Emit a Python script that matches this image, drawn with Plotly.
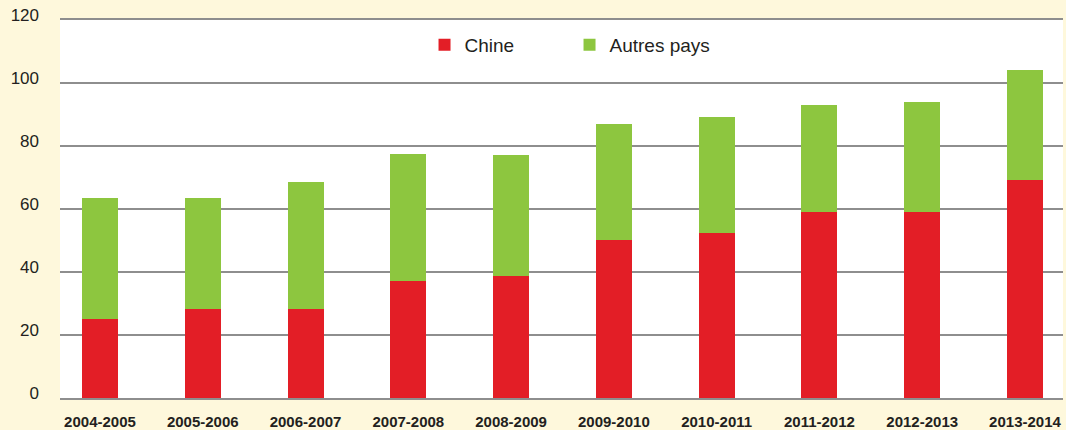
import plotly.graph_objects as go

categories = ["2004-2005", "2005-2006", "2006-2007", "2007-2008", "2008-2009",
              "2009-2010", "2010-2011", "2011-2012", "2012-2013", "2013-2014"]
chine = [25.1, 28.3, 28.3, 37.1, 38.7, 50.2, 52.4, 59.0, 59.0, 69.2]
autres = [38.4, 35.2, 40.3, 40.4, 38.4, 36.8, 36.8, 34.0, 35.0, 34.9]
y_ticks = [0, 20, 40, 60, 80, 100, 120]

RED = "#E31E26"
GREEN = "#8DC63F"
CREAM = "#FEF8DC"
FONT = "Liberation Sans"
GRID = "#8e8e8e"

fig = go.Figure()
fig.add_trace(go.Bar(x=list(range(len(categories))), y=chine, name="Chine",
                     marker=dict(color=RED, line=dict(width=0)), width=0.35))
fig.add_trace(go.Bar(x=list(range(len(categories))), y=autres, name="Autres pays",
                     marker=dict(color=GREEN, line=dict(width=0)), width=0.35))

fig.update_layout(
    barmode="stack",
    width=1066, height=430,
    margin=dict(l=60, r=3, t=20, b=32, autoexpand=False),
    paper_bgcolor=CREAM,
    plot_bgcolor="white",
    font=dict(family=FONT, color="#231F20"),
    showlegend=True,
    legend=dict(orientation="h", x=0.508, xanchor="center", y=0.934, yanchor="middle",
                font=dict(size=19, color="#231F20"), bgcolor="rgba(0,0,0,0)",
                entrywidth=100, traceorder="normal"),
    xaxis=dict(
        tickmode="array", tickvals=list(range(len(categories))), ticktext=categories,
        range=[-0.389, 9.37], showgrid=False, zeroline=False,
        ticks="outside", ticklen=9, tickcolor="rgba(0,0,0,0)",
        tickfont=dict(size=15, weight="bold", color="#231F20"),
        showline=True, mirror=True, linecolor=GRID, linewidth=1.6,
        automargin=False, fixedrange=True,
    ),
    yaxis=dict(
        range=[0, 120], tickmode="array", tickvals=y_ticks,
        showgrid=True, gridcolor=GRID, gridwidth=1.6,
        zeroline=False, showline=False,
        ticks="", ticklabelstandoff=20, ticklabelshift=-5,
        tickfont=dict(size=17, color="#231F20"),
        automargin=False, fixedrange=True,
    ),
)

fig.write_html("out.html", config={"displayModeBar": False},
               post_script="document.body.style.margin='0';document.body.style.padding='0';")
